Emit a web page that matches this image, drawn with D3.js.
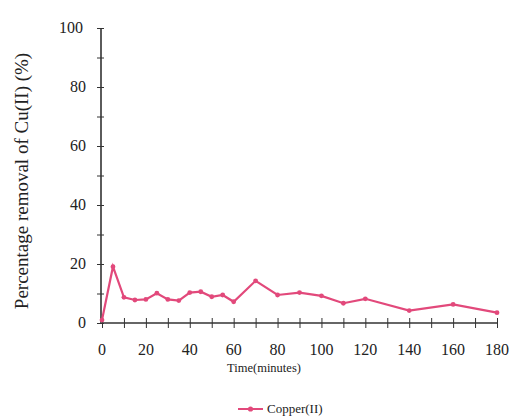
<!DOCTYPE html>
<html><head><meta charset="utf-8">
<script src="https://cdn.jsdelivr.net/npm/d3@7"></script>
<style>body{margin:0;background:#fff}svg{display:block}text{font-family:"Liberation Serif","Times New Roman",serif;fill:#222}</style>
</head><body><svg id="c" width="509" height="418"></svg>
<script>
const times = [0,5,10,15,20,25,30,35,40,45,50,55,60,70,80,90,100,110,120,140,160,180];
const copper = [1.0,19.1,8.7,7.8,8.0,10.1,8.0,7.6,10.3,10.6,8.9,9.5,7.2,14.3,9.5,10.3,9.2,6.7,8.2,4.2,6.3,3.5];
const xTicks = [0,20,40,60,80,100,120,140,160,180];
const yTicks = [0,20,40,60,80,100];
const seriesName = "Copper(II)";
const xLabel = "Time(minutes)";
const yLabel = "Percentage removal of Cu(II) (%)";

const svg = d3.select("#c");
const col = "#e2497b";
const x = d3.scaleLinear().domain([0,180]).range([102,497]);
const y = d3.scaleLinear().domain([0,100]).range([323,28]);
const axCol = "#333";

const gx = svg.append("g").attr("transform","translate(0,323)")
  .call(d3.axisBottom(x).tickValues(d3.range(0,181,10)).tickSize(5).tickFormat(""));
const gy = svg.append("g").attr("transform","translate(101,0)")
  .call(d3.axisLeft(y).tickValues(d3.range(0,101,10)).tickSize(4).tickFormat(""));
[gx,gy].forEach(g=>{g.selectAll("path").attr("stroke",axCol).attr("stroke-width",1.6);g.selectAll("line").attr("stroke",axCol).attr("stroke-width",1);});
gx.selectAll(".tick line").attr("y1",-5);
gy.selectAll(".tick line").attr("x1",3);
gx.select(".domain").attr("d",`M${x(0)},0H${x(180)}`);
gy.select(".domain").attr("d",`M0,${y(0)}V${y(100)}`);

svg.append("g").selectAll("text").data(xTicks).join("text")
  .attr("x",d=>x(d)).attr("y",355).attr("text-anchor","middle").attr("font-size",16).text(d=>d);
svg.append("g").selectAll("text").data(yTicks).join("text")
  .attr("x",d=>d===100?83:86).attr("y",d=>y(d)+5).attr("text-anchor","end").attr("font-size",16).text(d=>d);

svg.append("text").attr("x",264).attr("y",372).attr("text-anchor","middle").attr("font-size",12.5).text(xLabel);
svg.append("text").attr("transform","translate(28,181) rotate(-90)").attr("text-anchor","middle").attr("font-size",19).text(yLabel);

const data = times.map((t,i)=>({t,v:copper[i]}));
svg.append("path").datum(data).attr("fill","none").attr("stroke",col).attr("stroke-width",2.2)
  .attr("d",d3.line().x(d=>x(d.t)).y(d=>y(d.v)));
svg.append("g").selectAll("circle").data(data).join("circle")
  .attr("cx",d=>x(d.t)).attr("cy",d=>y(d.v)).attr("r",2.4).attr("fill",col);

const lg = svg.append("g");
lg.append("line").attr("x1",238).attr("x2",263).attr("y1",409).attr("y2",409).attr("stroke",col).attr("stroke-width",2);
lg.append("circle").attr("cx",250.5).attr("cy",409).attr("r",2.6).attr("fill",col);
lg.append("text").attr("x",267).attr("y",413).attr("font-size",13).text(seriesName);
</script></body></html>
